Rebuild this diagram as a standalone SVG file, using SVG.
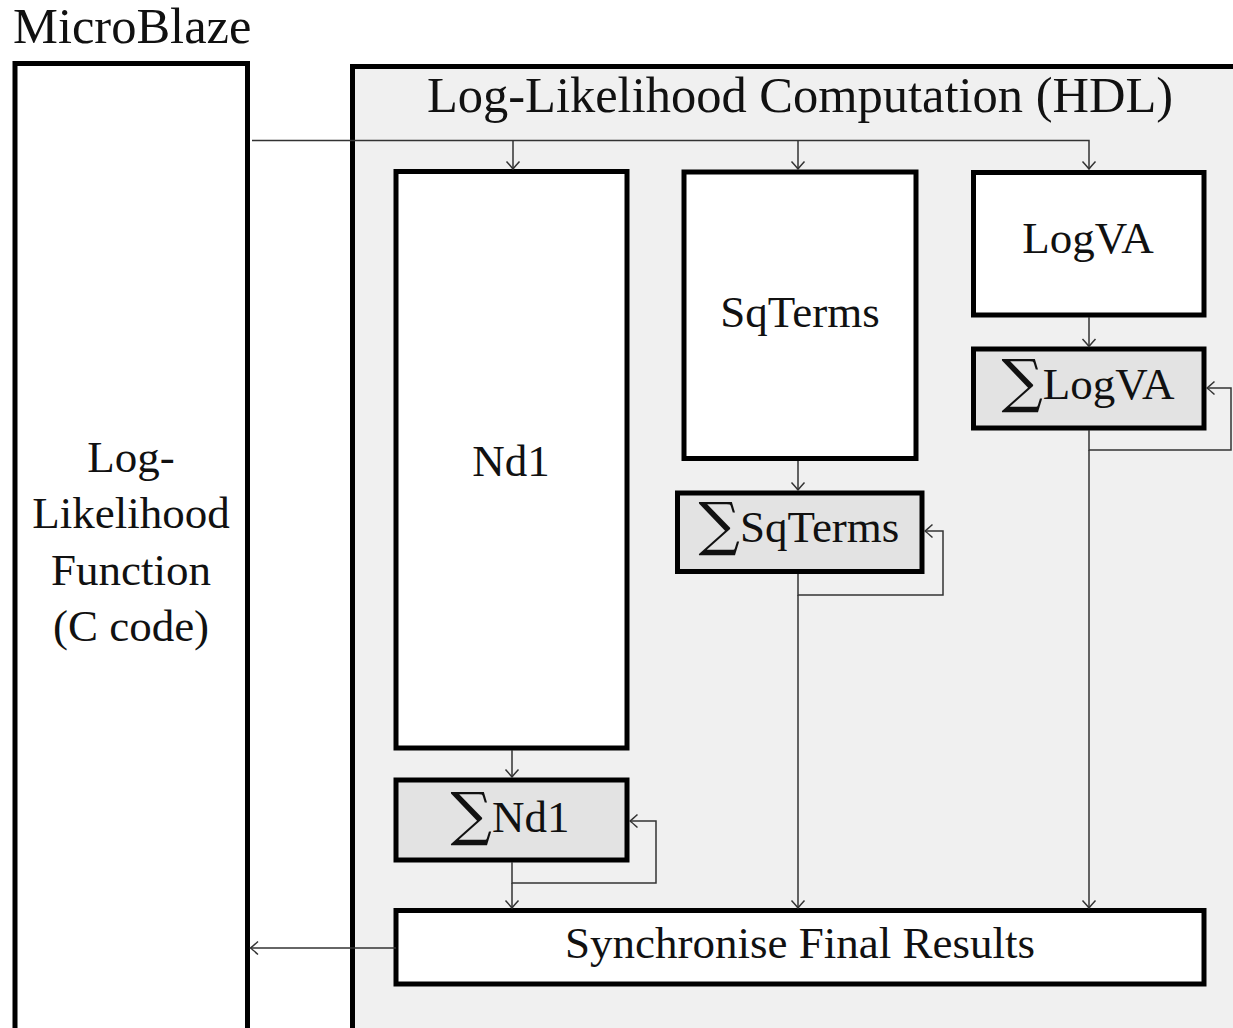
<svg xmlns="http://www.w3.org/2000/svg" width="1233" height="1028" viewBox="0 0 1233 1028">
  <style>
    text { font-family: "Liberation Serif", "Times New Roman", serif; fill: #111; }
    .title { font-size: 50.5px; }
    .lbl { font-size: 45px; text-anchor: middle; }
    .sig { font-family: "DejaVu Serif", "Liberation Serif", serif; font-size: 58px; }
    .box { stroke: #000; stroke-width: 5; }
    .plain { fill: #fff; }
    .acc { fill: #e3e3e3; }
    .wire { fill: none; stroke: #333; stroke-width: 1.5; }
  </style>
  <defs>
    <marker id="arr" viewBox="-10 -8 12 16" markerWidth="12" markerHeight="16" refX="0" refY="0" orient="auto" markerUnits="userSpaceOnUse">
      <path d="M-7.5,-6.5 Q-2,-1.5 0,0 Q-2,1.5 -7.5,6.5" fill="none" stroke="#333" stroke-width="1.5"/>
    </marker>
  </defs>

  <rect width="1233" height="1028" fill="#fff"/>

  <!-- processor side -->
  <g id="microblaze">
    <text class="title" x="13" y="43">MicroBlaze</text>
    <rect class="box plain" x="15" y="63.5" width="232.5" height="970"/>
    <text class="lbl" x="131" y="472">Log-</text>
    <text class="lbl" x="131" y="528">Likelihood</text>
    <text class="lbl" x="131" y="585">Function</text>
    <text class="lbl" x="131" y="641">(C code)</text>
  </g>

  <!-- hardware side -->
  <g id="hdl">
    <rect class="box" x="352.5" y="66.5" width="900" height="980" fill="#f0f0f0"/>
    <text class="title" x="800" y="112" text-anchor="middle">Log-Likelihood Computation (HDL)</text>
  </g>

  <g id="nd1">
    <rect class="box plain" x="396" y="171.5" width="231" height="576.5"/>
    <text class="lbl" x="511" y="476">Nd1</text>
  </g>
  <g id="sum-nd1">
    <rect class="box acc" x="396" y="780" width="231" height="80"/>
    <text class="lbl" x="510" y="832"><tspan class="sig" dy="2">∑</tspan><tspan dy="-2">Nd1</tspan></text>
  </g>

  <g id="sqterms">
    <rect class="box plain" x="684" y="172" width="232" height="286.5"/>
    <text class="lbl" x="800" y="327">SqTerms</text>
  </g>
  <g id="sum-sqterms">
    <rect class="box acc" x="677.5" y="493" width="244.5" height="78.5"/>
    <text class="lbl" x="799" y="542"><tspan class="sig" dy="2">∑</tspan><tspan dy="-2">SqTerms</tspan></text>
  </g>

  <g id="logva">
    <rect class="box plain" x="973.5" y="172.5" width="230.5" height="142.5"/>
    <text class="lbl" x="1088" y="253">LogVA</text>
  </g>
  <g id="sum-logva">
    <rect class="box acc" x="973.5" y="349" width="230.5" height="79"/>
    <text class="lbl" x="1088" y="399"><tspan class="sig" dy="2">∑</tspan><tspan dy="-2">LogVA</tspan></text>
  </g>

  <g id="sync">
    <rect class="box plain" x="396" y="910.5" width="808" height="73.5"/>
    <text class="lbl" x="800" y="958">Synchronise Final Results</text>
  </g>

  <g id="connectors">
    <path class="wire" d="M252,140.5 H1089 V169" marker-end="url(#arr)"/>
    <path class="wire" d="M513,140.5 V169" marker-end="url(#arr)"/>
    <path class="wire" d="M798,140.5 V169" marker-end="url(#arr)"/>

    <path class="wire" d="M512,750 V777" marker-end="url(#arr)"/>
    <path class="wire" d="M512,862 V883 H656 V821 H630" marker-end="url(#arr)"/>
    <path class="wire" d="M512,883 V908" marker-end="url(#arr)"/>

    <path class="wire" d="M798,461 V490" marker-end="url(#arr)"/>
    <path class="wire" d="M798,574 V595 H943 V531 H925" marker-end="url(#arr)"/>
    <path class="wire" d="M798,595 V908" marker-end="url(#arr)"/>

    <path class="wire" d="M1089,317 V346.5" marker-end="url(#arr)"/>
    <path class="wire" d="M1089,430 V450 H1231 V388 H1207" marker-end="url(#arr)"/>
    <path class="wire" d="M1089,450 V908" marker-end="url(#arr)"/>

    <path class="wire" d="M396,948 H250.5" marker-end="url(#arr)"/>
  </g>
</svg>
